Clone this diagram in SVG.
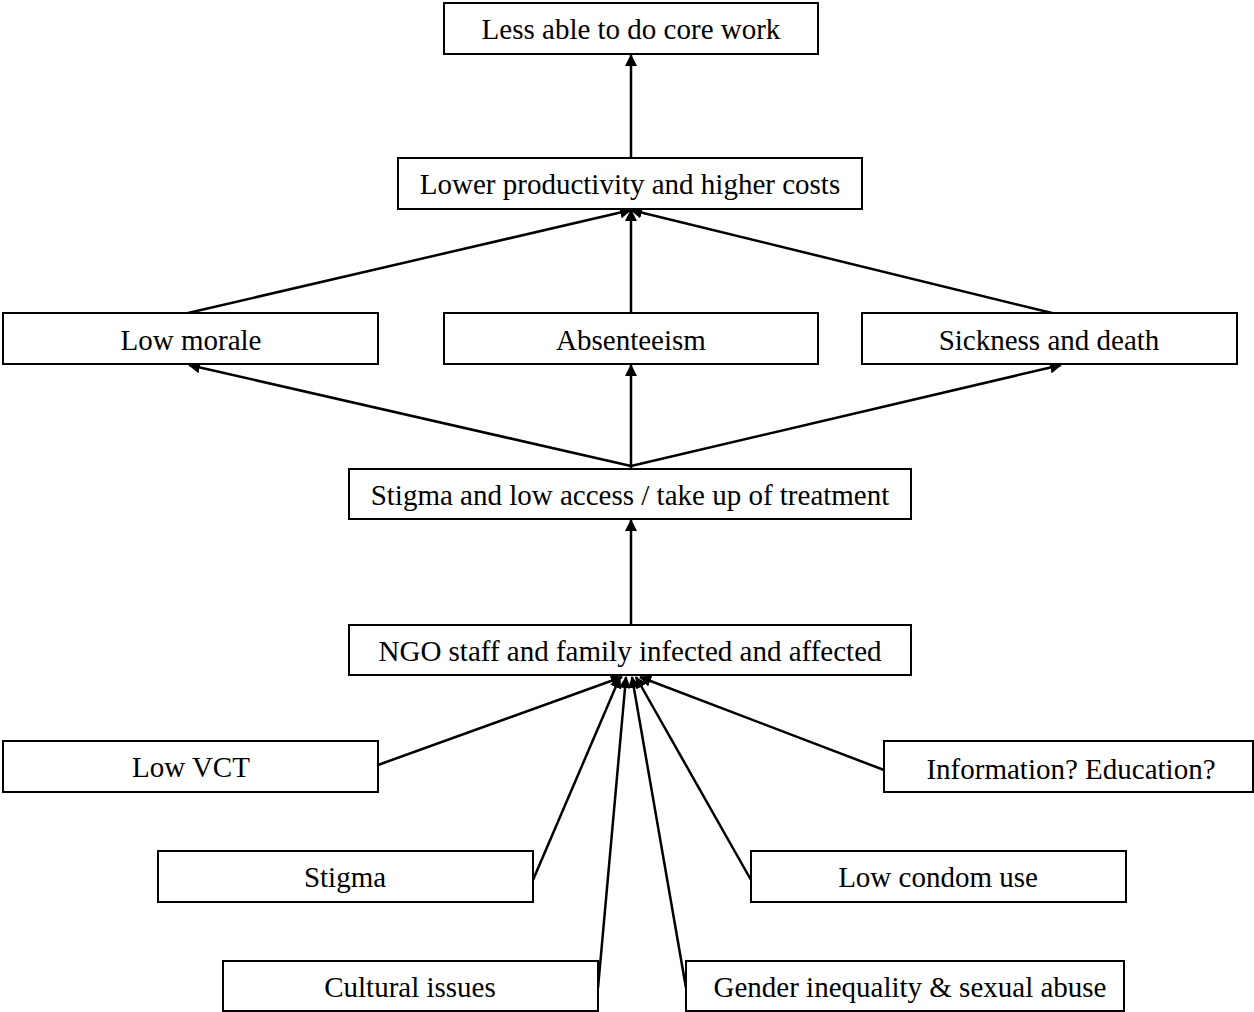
<svg xmlns="http://www.w3.org/2000/svg" width="1254" height="1012" viewBox="0 0 1254 1012">
<style>
.b{fill:#fff;stroke:#000;stroke-width:2}
.t{font-family:"Liberation Serif","Times New Roman",serif;font-size:29px;fill:#000;text-anchor:middle}
.c line{stroke:#000;stroke-width:2.5}
</style>
<defs>
<marker id="a" markerWidth="12" markerHeight="12" refX="11" refY="6" orient="auto" markerUnits="userSpaceOnUse" viewBox="0 0 12 12">
<path d="M0,0 L12,6 L0,12 z" fill="#000"/>
</marker>
</defs>
<rect width="1254" height="1012" fill="#fff"/>
<g class="c">
<line x1="631" y1="158" x2="631" y2="55" marker-end="url(#a)"/>
<line x1="188" y1="313" x2="631" y2="210" marker-end="url(#a)"/>
<line x1="631" y1="313" x2="631" y2="210" marker-end="url(#a)"/>
<line x1="1052" y1="313" x2="631" y2="210" marker-end="url(#a)"/>
<line x1="631" y1="466" x2="189" y2="365" marker-end="url(#a)"/>
<line x1="631" y1="469" x2="631" y2="365" marker-end="url(#a)"/>
<line x1="631" y1="466" x2="1061" y2="365" marker-end="url(#a)"/>
<line x1="631" y1="625" x2="631" y2="520" marker-end="url(#a)"/>
<line x1="378" y1="765" x2="622" y2="677" marker-end="url(#a)"/>
<line x1="533" y1="880" x2="620" y2="677" marker-end="url(#a)"/>
<line x1="598" y1="988" x2="626" y2="677" marker-end="url(#a)"/>
<line x1="686" y1="988" x2="632" y2="677" marker-end="url(#a)"/>
<line x1="751" y1="880" x2="636" y2="677" marker-end="url(#a)"/>
<line x1="884" y1="770" x2="640" y2="677" marker-end="url(#a)"/>
</g>
<g id="n1"><rect class="b" x="444" y="3" width="374" height="51"/><text class="t" x="631" y="39">Less able to do core work</text></g>
<g id="n2"><rect class="b" x="398" y="158" width="464" height="51"/><text class="t" x="630" y="194">Lower productivity and higher costs</text></g>
<g id="n3"><rect class="b" x="3" y="313" width="375" height="51"/><text class="t" x="191" y="350">Low morale</text></g>
<g id="n4"><rect class="b" x="444" y="313" width="374" height="51"/><text class="t" x="631" y="350">Absenteeism</text></g>
<g id="n5"><rect class="b" x="862" y="313" width="375" height="51"/><text class="t" x="1049" y="350">Sickness and death</text></g>
<g id="n6"><rect class="b" x="349" y="469" width="562" height="50"/><text class="t" x="630" y="505">Stigma and low access / take up of treatment</text></g>
<g id="n7"><rect class="b" x="349" y="625" width="562" height="50"/><text class="t" x="630" y="661">NGO staff and family infected and affected</text></g>
<g id="n8"><rect class="b" x="3" y="741" width="375" height="51"/><text class="t" x="191" y="777">Low VCT</text></g>
<g id="n9"><rect class="b" x="884" y="741" width="369" height="51"/><text class="t" x="1071" y="779">Information? Education?</text></g>
<g id="n10"><rect class="b" x="158" y="851" width="375" height="51"/><text class="t" x="345" y="887">Stigma</text></g>
<g id="n11"><rect class="b" x="751" y="851" width="375" height="51"/><text class="t" x="938" y="887">Low condom use</text></g>
<g id="n12"><rect class="b" x="223" y="961" width="375" height="50"/><text class="t" x="410" y="997">Cultural issues</text></g>
<g id="n13"><rect class="b" x="686" y="961" width="438" height="50"/><text class="t" x="910" y="997">Gender inequality &amp; sexual abuse</text></g>
</svg>
